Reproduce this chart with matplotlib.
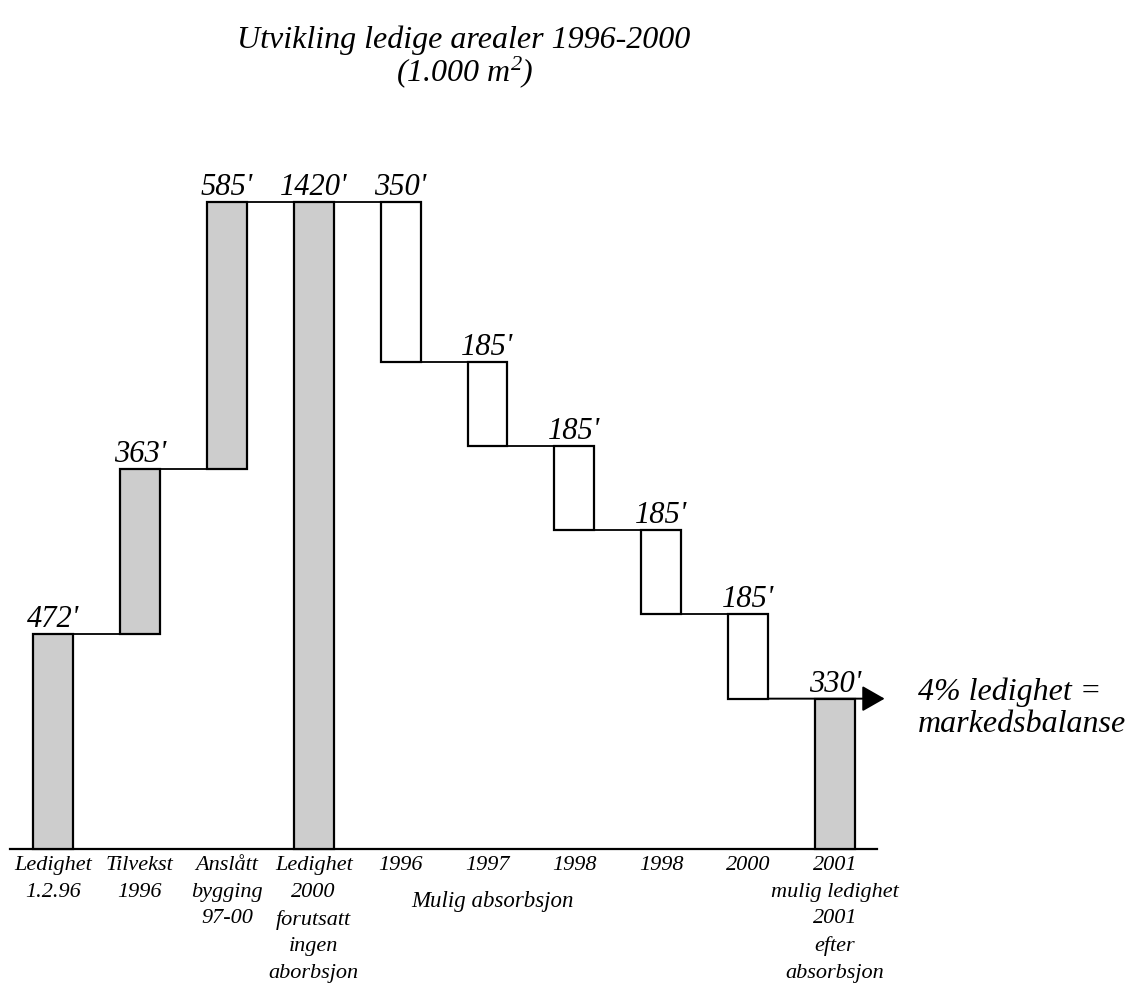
import matplotlib
matplotlib.use("Agg")
import matplotlib.pyplot as plt

# data (1.000 m2)
categories = ["Ledighet\n1.2.96", "Tilvekst\n1996", "Anslått\nbygging\n97-00",
              "Ledighet\n2000\nforutsatt\ningen\naborbsjon",
              "1996", "1997", "1998", "1998", "2000",
              "2001\nmulig ledighet\n2001\nefter\nabsorbsjon"]
changes = [472, 363, 585, 1420, -350, -185, -185, -185, -185, 330]
is_total = [True, False, False, True, False, False, False, False, False, True]
value_labels = ["472'", "363'", "585'", "1420'", "350'", "185'", "185'", "185'", "185'", "330'"]
shaded = [True, True, True, True, False, False, False, False, False, True]

plt.rcParams["font.family"] = ["Liberation Serif", "DejaVu Serif"]
plt.rcParams["font.style"] = "italic"
plt.rcParams["mathtext.fontset"] = "custom"
plt.rcParams["mathtext.rm"] = "Liberation Serif:italic"
plt.rcParams["mathtext.it"] = "Liberation Serif:italic"

W, H = 1133, 994
fig = plt.figure(figsize=(W / 100, H / 100), dpi=100)
ax = fig.add_axes([0, 0, 1, 1])

# map data -> pixel layout of the scan
px_x, x0 = 86.9, 53
px_y, base = 0.4556, 145
ax.set_xlim(-x0 / px_x, (W - x0) / px_x)
ax.set_ylim(-base / px_y, (H - base) / px_y)

width = 0.46
level = 0
bottoms, heights, ends = [], [], []
for v, tot in zip(changes, is_total):
    if tot:
        b, h = 0, v
        level = v
    else:
        b, h = (level, v) if v > 0 else (level + v, -v)
        level += v
    bottoms.append(b)
    heights.append(h)
    ends.append(level)

xs = list(range(len(categories)))
colors = ["#cdcdcd" if s else "white" for s in shaded]
ax.bar(xs, heights, width, bottom=bottoms, color=colors,
       edgecolor="black", linewidth=1.6, zorder=3)

# connector lines between bars
for i in range(len(xs) - 2):
    ax.plot([xs[i] + width / 2, xs[i + 1] - width / 2], [ends[i], ends[i]],
            color="black", lw=1.3, zorder=2)
# last step runs on as an arrow past the final bar
ax.annotate("", xy=(9.57, ends[-2]), xytext=(xs[-2] + width / 2, ends[-2]),
            arrowprops=dict(arrowstyle="-|>,head_length=0.7,head_width=0.4",
                            color="black", lw=1.4, mutation_scale=20,
                            shrinkA=0, shrinkB=0), zorder=4)

# value labels above each bar
for x, b, h, lab in zip(xs, bottoms, heights, value_labels):
    ax.annotate(lab, (x, b + h), xytext=(0, 5), textcoords="offset points",
                ha="center", va="baseline", fontsize=22)

# baseline + category labels
for s in ["top", "right", "left"]:
    ax.spines[s].set_visible(False)
ax.spines["bottom"].set_position(("data", 0))
ax.spines["bottom"].set_bounds(-0.49, 9.48)
ax.spines["bottom"].set_linewidth(1.6)
ax.set_yticks([])
ax.set_xticks(xs, categories, fontsize=16)
ax.tick_params(axis="x", length=0, pad=5)
for t in ax.get_xticklabels():
    t.set_linespacing(1.55)
ax.text(5.06, -115, "Mulig absorbsjon", ha="center", va="center", fontsize=16.5)

fig.text(464 / W, 1 - 40 / H, "Utvikling ledige arealer 1996-2000",
         ha="center", va="center", fontsize=23)
fig.text(465 / W, 1 - 72 / H, "(1.000 m$^{2}$)", ha="center", va="center", fontsize=23)
fig.text(918 / W, 1 - 708 / H, "4% ledighet =\nmarkedsbalanse",
         ha="left", va="center", fontsize=23, linespacing=1.15)

fig.savefig("out.png", dpi=100)
